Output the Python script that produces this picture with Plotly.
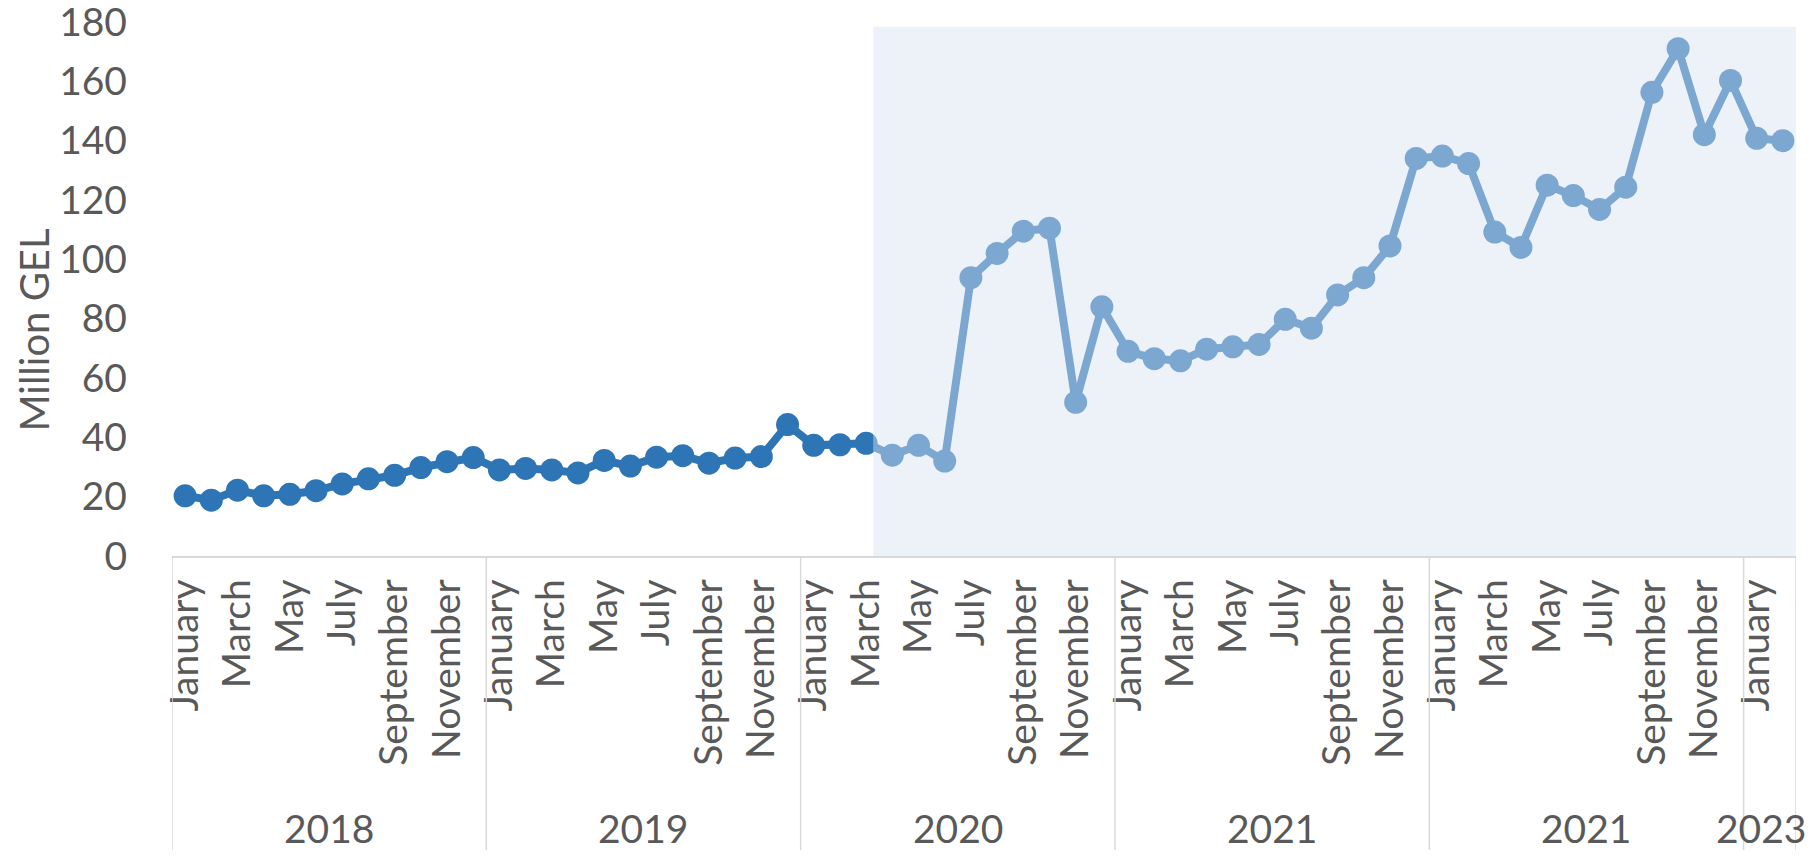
import plotly.graph_objects as go

# ---- data ----
month_names = ["January", "February", "March", "April", "May", "June", "July",
               "August", "September", "October", "November", "December"]
year_labels = ["2018", "2019", "2020", "2021", "2021", "2023"]
year_sizes = [12, 12, 12, 12, 12, 2]

values_2018 = [20.3, 18.8, 22.2, 20.3, 20.8, 22.0, 24.3, 26.0, 27.2, 29.8, 31.8, 33.2]
values_2019 = [29.0, 29.5, 29.0, 28.0, 32.2, 30.3, 33.3, 33.8, 31.3, 33.0, 33.5, 44.3]
values_2020 = [37.3, 37.5, 38.0, 34.0, 37.3, 32.0, 93.8, 102.0, 109.5, 110.5, 51.8, 84.0]
values_2021 = [69.0, 66.5, 65.8, 69.7, 70.5, 71.3, 79.8, 76.8, 88.0, 93.8, 104.5, 134.0]
values_2022 = [134.8, 132.3, 109.2, 104.0, 125.0, 121.5, 116.8, 124.3, 156.3, 171.0, 142.0, 160.3]
values_2023 = [140.8, 140.0]

y_ticks = [0, 20, 40, 60, 80, 100, 120, 140, 160, 180]

# shaded period (from just after March 2020 to the end)
shade_start_index = 26.27
shade_top = 178.4

# ---- build series ----
values = values_2018 + values_2019 + values_2020 + values_2021 + values_2022 + values_2023
months = []
for n in year_sizes:
    months += month_names[:n]
x_idx = list(range(len(values)))

FONT = "Lato, 'Open Sans', sans-serif"
FS = 39
GREY = "#595959"
DARK = "#2E75B6"

fig = go.Figure()
fig.add_trace(go.Scatter(
    x=x_idx, y=values, mode="lines+markers",
    line=dict(color=DARK, width=8),
    marker=dict(color=DARK, size=23),
    hoverinfo="x+y", showlegend=False,
))

tickvals = [i for i in x_idx if i % 2 == 0]
ticktext = [months[i] for i in tickvals]

shapes = []
# shaded overlay (drawn above the line so the line appears lighter)
shapes.append(dict(type="rect", xref="x", yref="y",
                   x0=shade_start_index, x1=len(values) - 0.3,
                   y0=-1, y1=shade_top,
                   fillcolor="rgba(216,227,242,0.46)", line=dict(width=0),
                   layer="above"))

# group dividers and year labels
annotations = []
start = 0
bounds = [-0.5]
for k, (lab, n) in enumerate(zip(year_labels, year_sizes)):
    center = start + (n - 1) / 2
    last = k == len(year_labels) - 1
    annotations.append(dict(x=center, y=-0.51, xref="x", yref="paper",
                            text=lab, showarrow=False, xanchor="center",
                            yanchor="middle", borderpad=0,
                            xshift=-9 if last else 0,
                            font=dict(family=FONT, size=FS, color=GREY)))
    start += n
    bounds.append(start - 0.5)
for b in bounds:
    shapes.append(dict(type="line", xref="x", yref="paper", x0=b, x1=b,
                       y0=0, y1=-0.56, line=dict(color="#D9D9D9", width=1.5)))

annotations.append(dict(x=0, y=76, xref="paper", yref="y", xanchor="center",
                        yanchor="middle", xshift=-138, text="Million GEL",
                        textangle=-90, showarrow=False, borderpad=0,
                        font=dict(family=FONT, size=40, color=GREY)))

# page body has an 8px margin, so the figure is sized to fit the window
fig.update_layout(
    width=1802, height=842,
    margin=dict(l=164, r=14, t=14, b=294, autoexpand=False),
    paper_bgcolor="white", plot_bgcolor="white",
    font=dict(family=FONT, size=FS, color=GREY),
    shapes=shapes, annotations=annotations,
    xaxis=dict(range=[-0.5, len(values) - 0.5], tickmode="array",
               tickvals=tickvals, ticktext=ticktext, tickangle=-90,
               showgrid=False, zeroline=False, showline=True,
               linecolor="#D9D9D9", linewidth=1.5, ticks="",
               ticklabelstandoff=6, automargin=False,
               tickfont=dict(family=FONT, size=FS, color=GREY)),
    yaxis=dict(range=[0, 180], tickmode="array", tickvals=y_ticks,
               showgrid=False, zeroline=False, showline=False, ticks="",
               ticklabelstandoff=44, automargin=False,
               ticklabeloverflow="allow",
               tickfont=dict(family=FONT, size=FS, color=GREY)),
)

fig.write_html("out.html")
